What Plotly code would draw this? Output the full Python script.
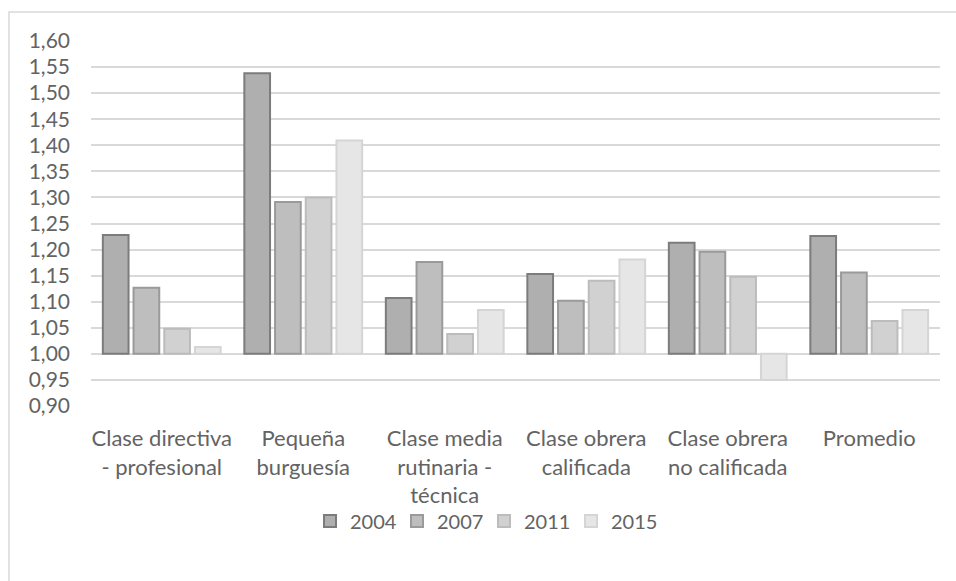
import plotly.graph_objects as go

categories = [
    "Clase directiva<br>- profesional",
    "Pequeña<br>burguesía",
    "Clase media<br>rutinaria -<br>técnica",
    "Clase obrera<br>calificada",
    "Clase obrera<br>no calificada",
    "Promedio",
]
years = ["2004", "2007", "2011", "2015"]
v2004 = [1.228, 1.538, 1.107, 1.153, 1.213, 1.226]
v2007 = [1.127, 1.291, 1.176, 1.102, 1.196, 1.156]
v2011 = [1.048, 1.300, 1.038, 1.140, 1.148, 1.063]
v2015 = [1.013, 1.409, 1.084, 1.181, 0.950, 1.084]
series = [v2004, v2007, v2011, v2015]
base_value = 1.0
tick_vals = [round(0.90 + 0.05 * i, 2) for i in range(15)]
tick_text = [f"{t:.2f}".replace(".", ",") for t in tick_vals]

fills = ["#afafaf", "#bebebe", "#d1d1d1", "#e6e6e6"]
lines = ["#7c7c7c", "#9a9a9a", "#bcbcbc", "#d5d5d5"]

FONT = "Lato, 'Liberation Sans', sans-serif"
TXT = "#636363"

fig = go.Figure()
for name, vals, fc, lc in zip(years, series, fills, lines):
    fig.add_trace(go.Bar(
        name=name,
        x=categories,
        y=[v - base_value for v in vals],
        base=[base_value] * len(vals),
        marker=dict(color=fc, line=dict(color=lc, width=2)),
    ))

W, H = 956, 581
L, R, T, B = 91, 16, 41, 175
pw, ph = W - L - R, H - T - B

def px_x(px):
    return (px - L) / pw

def px_y(py):
    return (H - B - py) / ph

fig.update_layout(
    width=W, height=H,
    margin=dict(l=L, r=R, t=T, b=B, pad=0),
    paper_bgcolor="white", plot_bgcolor="white",
    font=dict(family=FONT, color=TXT, size=21),
    barmode="group",
    bargap=0.132,
    bargroupgap=0.163,
    showlegend=True,
    legend=dict(
        orientation="h", x=px_x(484), xanchor="center",
        y=px_y(521), yanchor="middle",
        font=dict(size=20, color=TXT, family=FONT),
        itemwidth=30, traceorder="normal",
        entrywidth=42, entrywidthmode="pixels",
        bgcolor="rgba(0,0,0,0)",
    ),
    xaxis=dict(
        showgrid=False, showline=False, ticks="",
        tickfont=dict(size=22, color=TXT),
        ticklabelstandoff=17,
    ),
    yaxis=dict(
        range=[0.90, 1.60],
        tickvals=tick_vals, ticktext=tick_text,
        showgrid=True, gridcolor="#d9d9d9", gridwidth=2,
        zeroline=False, showline=False, ticks="",
        tickfont=dict(size=21, color=TXT),
        ticklabelstandoff=20,
    ),
    shapes=[dict(
        type="rect", xref="paper", yref="paper",
        x0=px_x(9), x1=px_x(990), y0=px_y(12), y1=px_y(620),
        line=dict(color="#d9d9d9", width=1.5), fillcolor="rgba(0,0,0,0)",
        layer="below",
    )],
)

fig.write_html(
    "out.html",
    config={"displayModeBar": False},
    post_script="document.body.style.margin='0';",
)
